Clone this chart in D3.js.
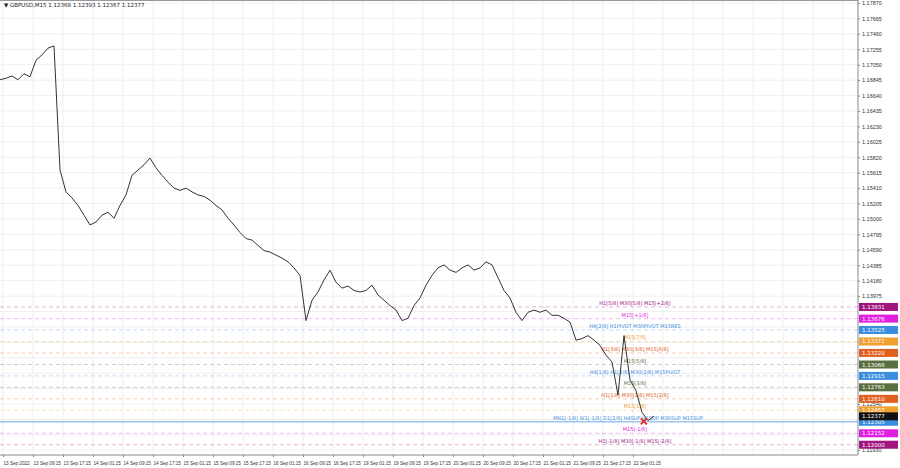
<!DOCTYPE html><html><head><meta charset="utf-8">
<script src="https://cdn.jsdelivr.net/npm/d3@7"></script>
<style>body{margin:0;background:#fff}svg{display:block;font-family:"DejaVu Sans",sans-serif}</style></head><body>
<svg id="c" width="900" height="468"></svg>
<script>
const closes=[1.1685,1.1687,1.1690,1.1685,1.1693,1.1689,1.1711,1.1718,1.1727,1.1730,
1.1565,1.1536,1.1528,1.1518,1.1505,1.1492,1.1496,1.1505,1.1509,1.1501,1.1518,1.1532,1.1558,1.1565,1.1572,1.1581,1.1568,1.1558,1.1549,1.1541,
1.1538,1.1541,1.1536,1.1532,1.1530,1.1525,1.1518,1.1512,1.1501,1.1492,1.1482,1.1474,1.1472,1.1465,1.1458,1.1456,1.1452,1.1448,1.1443,1.1435,
1.1425,1.1365,1.1392,1.1403,1.1419,1.1432,1.1416,1.1408,1.1411,1.1405,1.1403,1.1405,1.1412,1.1399,1.1392,1.1385,1.1379,1.1365,1.1368,1.1385,
1.1395,1.1412,1.1425,1.1435,1.1439,1.1432,1.1429,1.1435,1.1439,1.1432,1.1435,1.1443,1.1439,1.1422,1.1405,1.1395,1.1376,1.1365,1.1376,1.1379,
1.1376,1.1379,1.1372,1.1372,1.1368,1.1363,1.1339,1.1341,1.1345,1.1339,1.1332,1.1319,1.1310,1.1266,1.1345,1.1286,1.1272,1.1243,1.1232,1.1238];
const priceTicks=[1.17870,1.17665,1.17460,1.17255,1.17050,1.16845,1.16640,1.16435,1.16230,1.16025,1.15820,1.15615,1.15410,1.15205,1.15000,1.14795,1.14590,1.14385,1.14180,1.13975,1.13770,1.13565,1.13360,1.13155,1.12950,1.12745,1.12540,1.12335,1.12130,1.11930];
const timeLabels=["13 Sep 2022","13 Sep 09:15","13 Sep 17:15","14 Sep 01:15","14 Sep 09:15","14 Sep 17:15","15 Sep 01:15","15 Sep 09:15","15 Sep 17:15","16 Sep 01:15","16 Sep 09:15","16 Sep 17:15","19 Sep 01:15","19 Sep 09:15","19 Sep 17:15","20 Sep 01:15","20 Sep 09:15","20 Sep 17:15","21 Sep 01:15","21 Sep 09:15","21 Sep 17:15","22 Sep 01:15"];
const levelPrices=[1.13831,1.13676,1.13525,1.13372,1.13220,1.13066,1.12915,1.12763,1.12610,1.12457,1.12305,1.12152,1.12000];
const levelTexts=["H1[5/8] M30[5/8] M15[+2/8]","M15[+1/8]","H4[2/8] H1PIVOT M30PIVOT M15RES","M15[7/8]","H1[3/8] M30[3/8] M15[6/8]","M15[5/8]","H4[1/8] H1[2/8] M30[2/8] M15PIVOT","M15[3/8]","H1[1/8] M30[1/8] M15[2/8]","M15[1/8]","MN1[-1/8] W1[-1/8] D1[2/8] H4SUP H1SUP M30SUP M15SUP","M15[-1/8]","H1[-1/8] M30[-1/8] M15[-2/8]"];
const levelColors=["#a0167e","#e020e0","#3a8ee0","#f0a030","#e06020","#5a7040","#3a8ee0","#5a7040","#e06020","#f0a030","#3a8ee0","#e020e0","#a0167e"];
const lastPrice=1.12377;

const svg=d3.select("#c"),W=858,H=455;
const y=d3.scaleLinear().domain([1.11930,1.17870]).range([450,3]);
const x=d3.scaleLinear().domain([0,1]).range([0,6]);
const tx=d3.scaleLinear().domain([0,1]).range([3,33]);
const g=svg.append("g");
for(let i=0;i<29;i++)g.append("line").attr("x1",tx(i)).attr("x2",tx(i)).attr("y1",0).attr("y2",H).attr("stroke","#efefef");
priceTicks.forEach(p=>g.append("line").attr("x1",0).attr("x2",W).attr("y1",y(p)).attr("y2",y(p)).attr("stroke","#efefef"));
levelPrices.forEach((p,i)=>{
  const solid=i===10;
  g.append("line").attr("x1",0).attr("x2",W).attr("y1",y(p)).attr("y2",y(p)).attr("stroke",levelColors[i]).attr("stroke-opacity",solid?0.5:0.4)
   .attr("stroke-width",solid?1.6:0.8).attr("stroke-dasharray",solid?null:"4,3");
  g.append("text").attr("x",i===10?628:635).attr("y",y(p)-2).attr("text-anchor","middle").attr("font-size",5).attr("fill",levelColors[i]).text(levelTexts[i]);
});
g.append("path").datum(closes).attr("fill","none").attr("stroke","#333").attr("stroke-width",1)
 .attr("d",d3.line().x((d,i)=>x(i)).y(d=>y(d)));
const mx=x(107.3),my=y(1.1231);
g.append("path").attr("d",`M${mx-3},${my-3}L${mx+3},${my+3}M${mx+3},${my-3}L${mx-3},${my+3}`).attr("stroke","#e03030").attr("stroke-width",2);
svg.append("line").attr("x1",0).attr("x2",W).attr("y1",0.5).attr("y2",0.5).attr("stroke","#999");
svg.append("line").attr("x1",W).attr("x2",W).attr("y1",0).attr("y2",H).attr("stroke","#888");
svg.append("line").attr("x1",0).attr("x2",W).attr("y1",H).attr("y2",H).attr("stroke","#888");
const allBoxes=levelPrices.concat([lastPrice]);
const visTicks=priceTicks.filter(p=>allBoxes.every(b=>Math.abs(y(b)-y(p))>5));
const ax=svg.append("g").attr("transform",`translate(${W},0)`).call(d3.axisRight(y).tickValues(visTicks).tickSize(2).tickFormat(d3.format(".5f")));
ax.select(".domain").remove();
ax.selectAll("text").attr("font-size",5.5).attr("fill","#333").attr("x",4);
ax.selectAll("line").attr("stroke","#888");
const tax=svg.append("g").attr("transform",`translate(0,${H})`).call(d3.axisBottom(tx).tickValues(d3.range(timeLabels.length)).tickSize(2).tickFormat(i=>timeLabels[i]));
tax.select(".domain").remove();
tax.selectAll("text").attr("font-size",4.6).attr("fill","#333").attr("text-anchor","start").attr("dy","1em");
tax.selectAll("line").attr("stroke","#888");
allBoxes.forEach((p,i)=>{
  const c=i<levelPrices.length?levelColors[i]:"#111";
  svg.append("rect").attr("x",W+1).attr("y",y(p)-4).attr("width",39).attr("height",8).attr("fill",c);
  svg.append("text").attr("x",W+4).attr("y",y(p)+2).attr("font-size",5.5).attr("fill","#fff").text(p.toFixed(5));
});
svg.append("text").attr("x",4).attr("y",7).attr("font-size",5.5).attr("fill","#222").text("▼ GBPUSD,M15  1.12368 1.12393 1.12367 1.12377");
</script></body></html>
